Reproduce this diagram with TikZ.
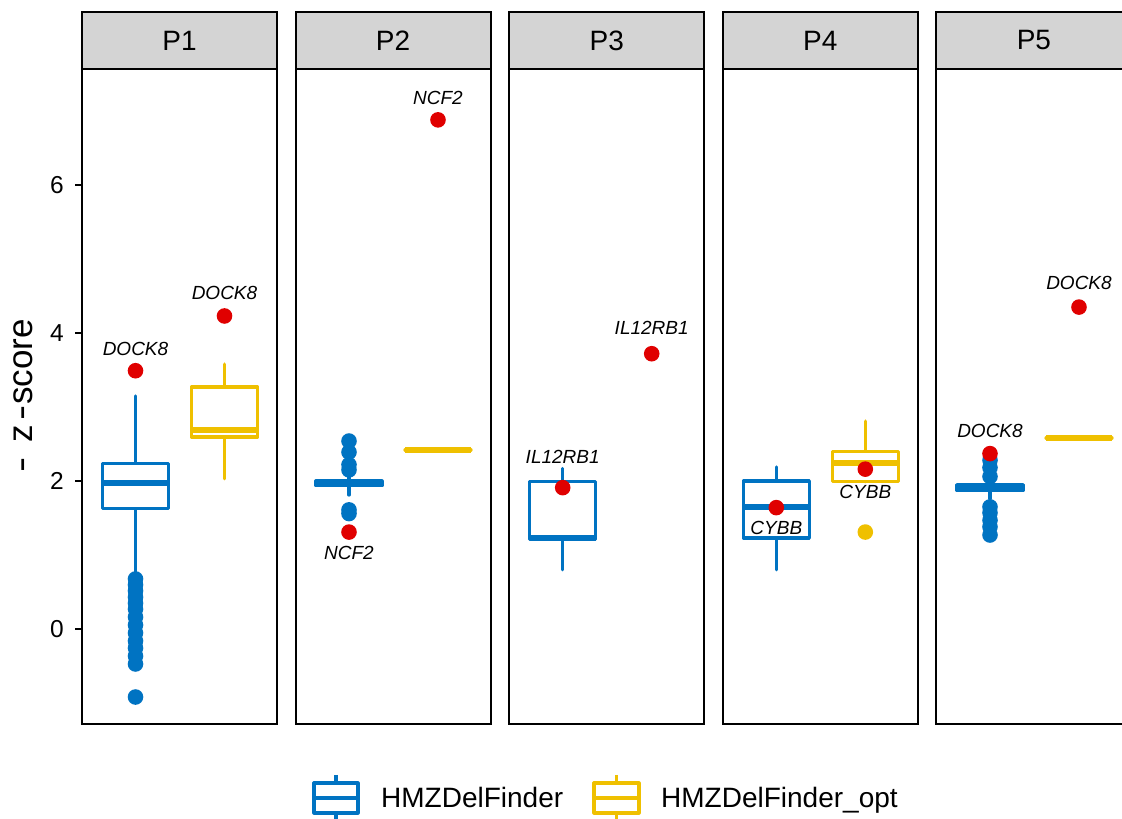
\documentclass[tikz,border=0pt]{standalone}
\usepackage{fontspec}
\setmainfont{Liberation Sans}
\definecolor{jcoblue}{HTML}{0073C2}
\definecolor{jcoyellow}{HTML}{EFC000}
\definecolor{hitred}{HTML}{E00000}
\definecolor{stripgrey}{HTML}{D4D4D4}

% one boxplot: colour, x centre, lower whisker, q1, median, q3, upper whisker
\newcommand{\bxp}[7]{%
  \draw[#1, whisk] (#2,#3) -- (#2,#4);
  \draw[#1, whisk] (#2,#6) -- (#2,#7);
  \draw[#1, boxline, fill=white] ({#2-33},#4) rectangle ({#2+33},#6);
  \draw[#1, medline] ({#2-33},#5) -- ({#2+33},#5);
}
% a slightly widened dash for the axis title
\newcommand{\widedash}{\scalebox{1.3}[1]{-}}

\begin{document}
\begin{tikzpicture}[x=1pt, y=1pt,
  frame/.style={draw=black, line width=2pt},
  striptext/.style={font=\fontsize{28}{28}\selectfont, inner sep=0pt},
  ticktext/.style={font=\fontsize{24.5}{24.5}\selectfont, inner sep=0pt, anchor=east},
  tickmark/.style={line width=2pt},
  whisk/.style={line width=3.2pt, line cap=round},
  boxline/.style={line width=3.2pt, line join=round},
  medline/.style={line width=6pt},
  pt/.style={radius=7.8pt},
  gene/.style={font=\fontsize{19}{19}\selectfont\itshape, inner sep=0pt},
  legtext/.style={font=\fontsize{28}{28}\selectfont, inner sep=0pt, anchor=base west}]

\useasboundingbox (0,0) rectangle (1122,819);
\fill[white] (0,0) rectangle (1122,819);
\clip (0,0) rectangle (1122,819);

% facet panels and strips
\foreach \L/\lab [count=\i] in {82/P1, 295.6/P2, 509.2/P3, 722.8/P4, 936.4/P5} {
  \draw[frame] (\L,95) rectangle ++(195,655);
  \draw[frame, fill=stripgrey] (\L,750) rectangle ++(195,57);
  \node[striptext] (strip\i) at (\L+97.5,778.5) {\lab};
}

% y axis
\foreach \v in {0,2,4,6} {
  \draw[tickmark] (75,190+74*\v) -- (82,190+74*\v);
  \node[ticktext] (tick\v) at (64,190+74*\v) {\v};
}
\node[font=\fontsize{35}{35}\selectfont, inner sep=0pt, rotate=90] (ytitle) at (23.5,423)
  {\widedash\kern15pt z\kern5pt\widedash score};

% data area: x in pixels, y in z-score units
\begin{scope}[shift={(0,190)}, y=74pt]
  % P1
  \bxp{jcoblue}{135.5}{0.72}{1.626}{1.97}{2.234}{3.15}
  \foreach \v in {0.676,0.595,0.514,0.432,0.351,0.27,0.162,0.054,-0.054,-0.162,-0.257,-0.365,-0.473,-0.919}
    \fill[jcoblue] (135.5,\v) circle[pt];
  \bxp{jcoyellow}{224.5}{2.03}{2.595}{2.69}{3.27}{3.58}
  \fill[hitred] (135.5,3.49) circle[pt];
  \fill[hitred] (224.5,4.23) circle[pt];
  \node[gene] (g1a) at (135.5,3.784) {DOCK8};
  \node[gene] (g1b) at (224.5,4.541) {DOCK8};

  % P2
  \bxp{jcoblue}{349}{1.81}{1.935}{1.97}{2.0}{2.1}
  \foreach \v in {2.54,2.39,2.22,2.15,1.61,1.56}
    \fill[jcoblue] (349,\v) circle[pt];
  \bxp{jcoyellow}{438}{2.42}{2.42}{2.42}{2.42}{2.42}
  \fill[hitred] (349,1.31) circle[pt];
  \fill[hitred] (438,6.88) circle[pt];
  \node[gene] (g2a) at (349,1.027) {NCF2};
  \node[gene] (g2b) at (438,7.176) {NCF2};

  % P3
  \bxp{jcoblue}{562.7}{0.8}{1.205}{1.23}{1.99}{2.17}
  \fill[hitred] (562.7,1.91) circle[pt];
  \fill[hitred] (651.7,3.72) circle[pt];
  \node[gene] (g3a) at (562.7,2.324) {IL12RB1};
  \node[gene] (g3b) at (651.7,4.068) {IL12RB1};

  % P4
  \bxp{jcoblue}{776.3}{0.8}{1.23}{1.65}{2.0}{2.19}
  \bxp{jcoyellow}{865.3}{1.99}{1.99}{2.24}{2.40}{2.81}
  \fill[jcoyellow] (865.3,1.31) circle[pt];
  \fill[hitred] (776.3,1.64) circle[pt];
  \fill[hitred] (865.3,2.16) circle[pt];
  \node[gene] (g4a) at (776.3,1.365) {CYBB};
  \node[gene] (g4b) at (865.3,1.851) {CYBB};

  % P5
  \bxp{jcoblue}{990}{1.76}{1.87}{1.9}{1.95}{1.99}
  \foreach \v in {2.28,2.18,2.06,1.65,1.57,1.47,1.38,1.27}
    \fill[jcoblue] (990,\v) circle[pt];
  \bxp{jcoyellow}{1079}{2.58}{2.58}{2.58}{2.58}{2.58}
  \fill[hitred] (990,2.37) circle[pt];
  \fill[hitred] (1079,4.35) circle[pt];
  \node[gene] (g5a) at (990,2.676) {DOCK8};
  \node[gene] (g5b) at (1079,4.676) {DOCK8};
\end{scope}

% legend
\draw[jcoblue, boxline] (336,44) -- (336,36) (336,6) -- (336,-2);
\draw[jcoblue, boxline] (314,6) rectangle (358,36);
\draw[jcoblue, boxline] (314,21) -- (358,21);
\node[legtext] (leg1) at (381,11) {HMZDelFinder};
\draw[jcoyellow, boxline] (616.5,44) -- (616.5,36) (616.5,6) -- (616.5,-2);
\draw[jcoyellow, boxline] (594,6) rectangle (639,36);
\draw[jcoyellow, boxline] (594,21) -- (639,21);
\node[legtext] (leg2) at (661,11) {HMZDelFinder\_opt};
\end{tikzpicture}
\end{document}
